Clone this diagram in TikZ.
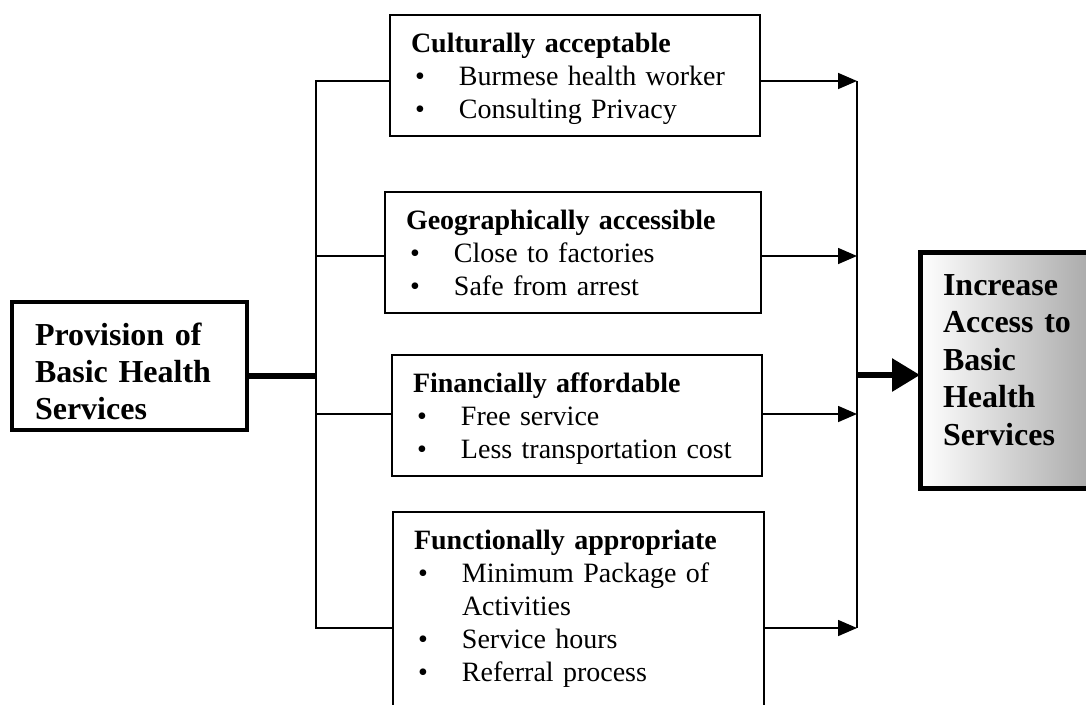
\documentclass[tikz,border=0pt]{standalone}
\usepackage{fontspec}
\setmainfont{Liberation Serif}
\usetikzlibrary{arrows.meta}

\newcommand{\itm}[1]{\hspace*{4pt}\makebox[44pt][l]{\textbullet}#1}

\begin{document}
\begin{tikzpicture}[x=1pt,y=-1pt,>={Triangle[length=19pt,width=16pt]},
  factor/.style={draw,line width=1.3pt,outer sep=0pt,anchor=north west,align=left,
    inner xsep=21pt,inner ysep=18pt,text height=19pt,text depth=66pt,
    font=\fontsize{28}{33}\selectfont},
  endbox/.style={draw,outer sep=0pt,anchor=north west,align=left,inner xsep=23pt,
    font=\fontsize{32}{37.5}\selectfont\bfseries},
  link/.style={line width=1.6pt},
  heavylink/.style={line width=6pt}]
  \useasboundingbox (0,0) rectangle (1086,704);
  \node[endbox,line width=4pt,inner ysep=8pt,text width=189pt,text height=35pt,text depth=77pt,
    font=\fontsize{32}{37}\selectfont\bfseries] (prov) at (12,302) {Provision of\\Basic Health\\Services};
  \node[factor,text width=328pt] (cult) at (390,15)
    {\textbf{Culturally acceptable}\\\itm{Burmese health worker}\\\itm{Consulting Privacy}};
  \node[factor,text width=334pt] (geo) at (385,192)
    {\textbf{Geographically accessible}\\\itm{Close to factories}\\\itm{Safe from arrest}};
  \node[factor,text width=328pt] (fin) at (392,355)
    {\textbf{Financially affordable}\\\itm{Free service}\\\itm{Less transportation cost}};
  \node[factor,text width=329pt,text depth=162pt] (func) at (393,512)
    {\textbf{Functionally appropriate}\\\itm{Minimum Package of}\\\hspace*{48pt}Activities\\\itm{Service hours}\\\itm{Referral process}};
  \node[endbox,line width=5pt,left color=white,right color=black!40,inner ysep=20pt,
    text width=160pt,text height=23pt,text depth=173pt] (goal) at (920,252)
    {Increase\\Access to\\Basic\\Health\\Services};
  \coordinate (b0) at (316,376);
  \coordinate (b1) at (316,81);
  \coordinate (b2) at (316,256);
  \coordinate (b3) at (316,414);
  \coordinate (b4) at (316,628);
  \coordinate (r0) at (857,375);
  \coordinate (r1) at (857,81);
  \coordinate (r2) at (857,256);
  \coordinate (r3) at (857,414);
  \coordinate (r4) at (857,628);
  \draw[link] (cult.west |- b1) -- (b1) -- (b4) -- (func.west |- b4);
  \draw[link] (b2) -- (geo.west |- b2);
  \draw[link] (b3) -- (fin.west |- b3);
  \draw[heavylink] (prov.east |- b0) -- (b0);
  \draw[link] (r1) -- (r4);
  \foreach \bx/\r in {cult/r1,geo/r2,fin/r3,func/r4}
    \draw[link,->] (\bx.east |- \r) -- (\r);
  \draw[heavylink,-{Triangle[length=28pt,width=32pt]}] (r0) -- (goal.west |- r0);
\end{tikzpicture}
\end{document}
